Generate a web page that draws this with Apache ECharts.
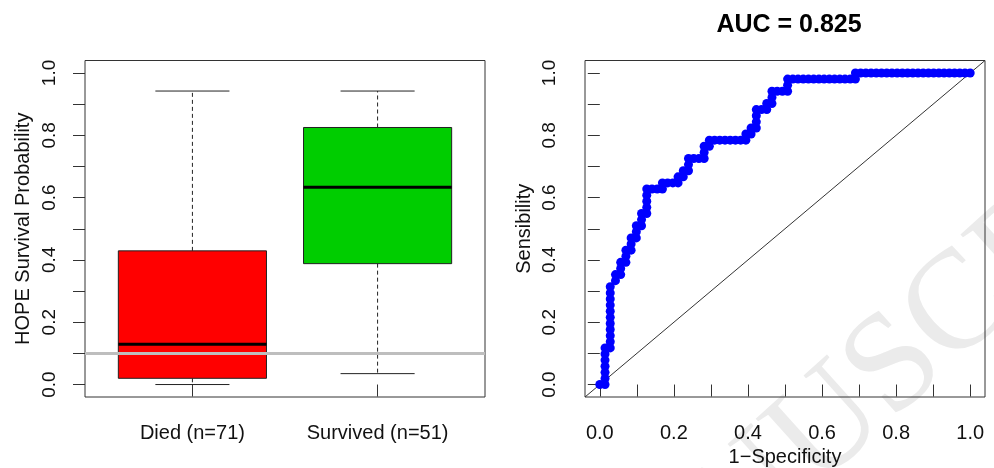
<!DOCTYPE html>
<html>
<head>
<meta charset="utf-8">
<script src="https://cdn.jsdelivr.net/npm/echarts@6.0.0/dist/echarts.min.js"></script>
<style>
  html, body { margin: 0; padding: 0; background: #fff; }
  #chart { width: 994px; height: 468px; }
</style>
</head>
<body>
<div id="chart"></div>
<script>
// left panel: HOPE survival probability by outcome (box plot stats)
const categories = ["Died (n=71)", "Survived (n=51)"];
const whiskerLow = [0.0, 0.035];
const quartile1 = [0.02, 0.388];
const medians = [0.129, 0.633];
const quartile3 = [0.429, 0.825];
const whiskerHigh = [0.942, 0.942];
const boxColors = ["#ff0000", "#00cd00"];
const cutoff = 0.1;

// right panel: ROC curve, false / true positive counts at each threshold
const nDied = 71;
const nSurvived = 51;
const fpCounts = [
  0, 1, 1, 1, 1, 1, 1, 1,
  2, 2, 2, 2, 2, 2, 2, 2, 2, 2, 2,
  3, 3, 4, 4, 4, 5, 5, 5, 6, 6, 6, 7, 7, 7, 8, 8, 8, 9, 9, 9, 9, 9,
  10, 11, 12, 12, 13, 14, 15, 15, 16, 16, 17, 17, 17,
  18, 19, 20, 20, 20, 21, 21,
  22, 23, 24, 25, 26, 27, 28, 28, 29, 29, 30, 30, 30, 30,
  31, 32, 32, 33, 33, 33, 34, 35, 36, 36, 36,
  37, 38, 39, 40, 41, 42, 43, 44, 45, 46, 47, 48, 49, 49,
  50, 51, 52, 53, 54, 55, 56, 57, 58, 59, 60, 61, 62, 63, 64, 65, 66, 67, 68, 69, 70, 71
];
const tpCounts = [
  0, 0, 1, 2, 3, 4, 5, 6,
  6, 7, 8, 9, 10, 11, 12, 13, 14, 15, 16,
  17, 18, 18, 19, 20, 20, 21, 22, 22, 23, 24, 24, 25, 26, 26, 27, 28, 28, 29, 30, 31, 32,
  32, 32, 32, 33, 33, 33, 33, 34, 34, 35, 35, 36, 37,
  37, 37, 37, 38, 39, 39, 40,
  40, 40, 40, 40, 40, 40, 40, 41, 41, 42, 42, 43, 44, 45,
  45, 45, 46, 46, 47, 48, 48, 48, 48, 49, 50,
  50, 50, 50, 50, 50, 50, 50, 50, 50, 50, 50, 50, 50, 51,
  51, 51, 51, 51, 51, 51, 51, 51, 51, 51, 51, 51, 51, 51, 51, 51, 51, 51, 51, 51, 51, 51
];
const aucText = "AUC = 0.825";

const unitTicks = [0, 0.1, 0.2, 0.3, 0.4, 0.5, 0.6, 0.7, 0.8, 0.9, 1.0];
const unitLabels = [0, 0.2, 0.4, 0.6, 0.8, 1.0];
const boxPositions = [1, 2];

const FONT = "Liberation Sans";
const chart = echarts.init(document.getElementById("chart"));

const boxData = categories.map((c, i) => [
  boxPositions[i], whiskerLow[i], quartile1[i], medians[i], quartile3[i], whiskerHigh[i]
]);
const rocData = fpCounts.map((f, i) => [f / nDied, tpCounts[i] / nSurvived]);

function renderBox(params, api) {
  const x = api.value(0);
  const lo = api.coord([x, api.value(1)]);
  const q1 = api.coord([x, api.value(2)]);
  const med = api.coord([x, api.value(3)]);
  const q3 = api.coord([x, api.value(4)]);
  const hi = api.coord([x, api.value(5)]);
  const half = api.size([0.8, 0])[0] / 2;
  const cap = half / 2;
  const cx = lo[0];
  const thin = { stroke: "#222", lineWidth: 1 };
  const dashed = { stroke: "#222", lineWidth: 1, lineDash: [4, 3] };
  return {
    type: "group",
    children: [
      { type: "line", shape: { x1: cx, y1: q3[1], x2: cx, y2: hi[1] }, style: dashed },
      { type: "line", shape: { x1: cx, y1: q1[1], x2: cx, y2: lo[1] }, style: dashed },
      { type: "line", shape: { x1: cx - cap, y1: hi[1], x2: cx + cap, y2: hi[1] }, style: thin },
      { type: "line", shape: { x1: cx - cap, y1: lo[1], x2: cx + cap, y2: lo[1] }, style: thin },
      {
        type: "rect",
        shape: { x: cx - half, y: q3[1], width: half * 2, height: q1[1] - q3[1] },
        style: { fill: boxColors[params.dataIndex], stroke: "#222", lineWidth: 1 }
      },
      { type: "line", shape: { x1: cx - half, y1: med[1], x2: cx + half, y2: med[1] },
        style: { stroke: "#000", lineWidth: 3 } }
    ]
  };
}

const tickStyle = { show: true, length: 12, lineStyle: { color: "#333", width: 1 } };
const xLabelStyle = { fontSize: 20, color: "#111", fontFamily: FONT };
const yLabelStyle = { fontSize: 19, color: "#111", fontFamily: FONT };
const nameStyle = { fontSize: 20, color: "#111", fontFamily: FONT };

chart.setOption({
  animation: false,
  textStyle: { fontFamily: FONT },
  graphic: [
    {
      type: "text", x: 546, y: 682, rotation: 42 * Math.PI / 180, z: -10, silent: true,
      style: { text: "MANUSCRIPT", font: '141px "Liberation Serif"', fill: "#ebebeb",
        textVerticalAlign: "middle" }
    },
    {
      type: "text", x: 789, y: 25,
      style: { text: aucText, font: 'bold 25px "Liberation Sans"', fill: "#000",
        textAlign: "center", textVerticalAlign: "middle" }
    }
  ],
  grid: [
    { left: 85, top: 60.5, width: 400, height: 336.5, show: true, borderColor: "#333",
      borderWidth: 1, outerBoundsMode: "none" },
    { left: 585, top: 60.5, width: 400, height: 336.5, show: true, borderColor: "#333",
      borderWidth: 1, outerBoundsMode: "none" }
  ],
  xAxis: [
    {
      gridIndex: 0, type: "value", min: 0.42, max: 2.58,
      axisLine: { show: false }, splitLine: { show: false },
      axisTick: Object.assign({ customValues: boxPositions }, tickStyle),
      axisLabel: Object.assign({ customValues: boxPositions, margin: 26,
        formatter: v => categories[boxPositions.indexOf(v)] }, xLabelStyle)
    },
    {
      gridIndex: 1, type: "value", min: -0.04, max: 1.04,
      name: "1\u2212Specificity", nameLocation: "middle", nameGap: 50, nameTextStyle: nameStyle,
      axisLine: { show: false }, splitLine: { show: false },
      axisTick: Object.assign({ customValues: unitTicks }, tickStyle),
      axisLabel: Object.assign({ customValues: unitLabels, margin: 26,
        formatter: v => v.toFixed(1) }, xLabelStyle)
    }
  ],
  yAxis: [
    {
      gridIndex: 0, type: "value", min: -0.04, max: 1.04,
      name: "HOPE Survival Probability", nameLocation: "middle", nameRotate: 90, nameGap: 52,
      nameTextStyle: nameStyle,
      axisLine: { show: false }, splitLine: { show: false },
      axisTick: Object.assign({ customValues: unitTicks }, tickStyle),
      axisLabel: Object.assign({ customValues: unitLabels, rotate: 90, margin: 26,
        formatter: v => v.toFixed(1) }, yLabelStyle)
    },
    {
      gridIndex: 1, type: "value", min: -0.04, max: 1.04,
      name: "Sensibility", nameLocation: "middle", nameRotate: 90, nameGap: 51,
      nameTextStyle: nameStyle,
      axisLine: { show: false }, splitLine: { show: false },
      axisTick: Object.assign({ customValues: unitTicks }, tickStyle),
      axisLabel: Object.assign({ customValues: unitLabels, rotate: 90, margin: 26,
        formatter: v => v.toFixed(1) }, yLabelStyle)
    }
  ],
  series: [
    {
      type: "custom", xAxisIndex: 0, yAxisIndex: 0,
      data: boxData, encode: { x: 0, y: [1, 2, 3, 4, 5] },
      renderItem: renderBox, z: 2
    },
    {
      type: "line", xAxisIndex: 0, yAxisIndex: 0, data: [], z: 3,
      markLine: {
        silent: true, symbol: "none", label: { show: false },
        lineStyle: { color: "#bebebe", width: 3, type: "solid" },
        data: [{ yAxis: cutoff }]
      }
    },
    {
      type: "line", xAxisIndex: 1, yAxisIndex: 1, z: 2, symbol: "none",
      data: [[-0.04, -0.04], [1.04, 1.04]],
      lineStyle: { color: "#333", width: 1 }
    },
    {
      type: "line", xAxisIndex: 1, yAxisIndex: 1, z: 3,
      data: rocData, showAllSymbol: true,
      symbol: "circle", symbolSize: 9,
      itemStyle: { color: "#0000ff" },
      lineStyle: { color: "#0000ff", width: 3 }
    }
  ]
});
</script>
</body>
</html>
